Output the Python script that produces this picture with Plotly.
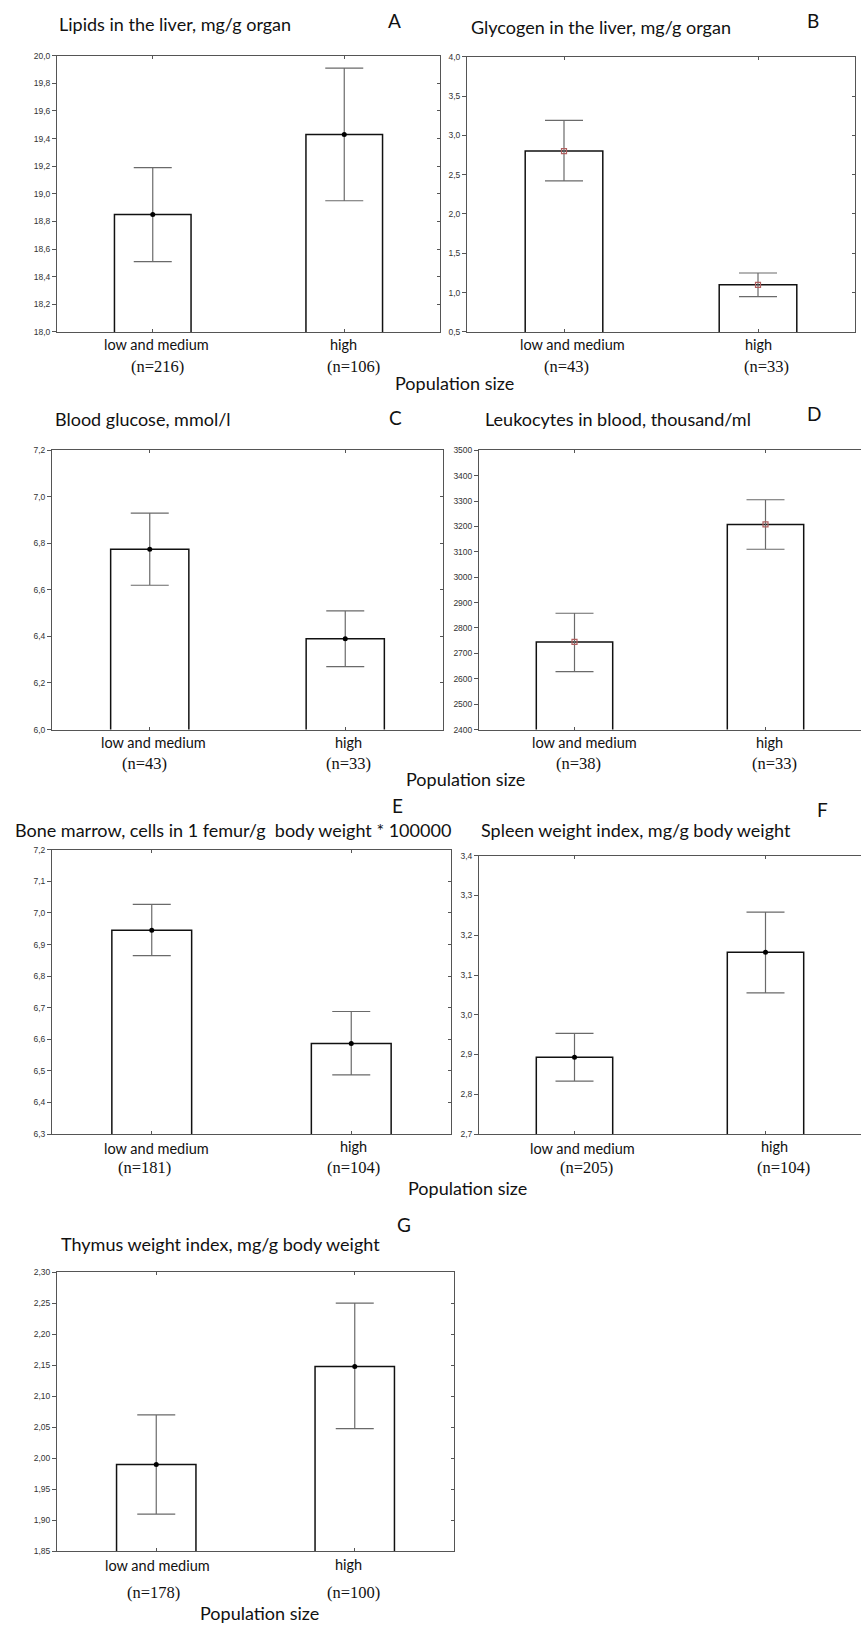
import plotly.graph_objects as go

W, H = 861, 1629

# ---------------- data ----------------
categories = ["low and medium", "high"]
panel_letters = ["A", "B", "C", "D", "E", "F", "G"]
titles = [
    "Lipids in the liver, mg/g organ",
    "Glycogen in the liver, mg/g organ",
    "Blood glucose, mmol/l",
    "Leukocytes in blood, thousand/ml",
    "Bone marrow, cells in 1 femur/g  body weight * 100000",
    "Spleen weight index, mg/g body weight",
    "Thymus weight index, mg/g body weight",
]
means = [
    [18.85, 19.43],
    [2.80, 1.10],
    [6.775, 6.39],
    [2745, 3208],
    [6.945, 6.587],
    [2.893, 3.157],
    [1.99, 2.148],
]
ci_upper = [
    [19.19, 19.91],
    [3.19, 1.25],
    [6.93, 6.51],
    [2858, 3305],
    [7.027, 6.688],
    [2.953, 3.258],
    [2.07, 2.25],
]
ci_lower = [
    [18.51, 18.95],
    [2.42, 0.95],
    [6.62, 6.27],
    [2628, 3110],
    [6.865, 6.487],
    [2.833, 3.055],
    [1.91, 2.048],
]
n_sizes = [
    [216, 106],
    [43, 33],
    [43, 33],
    [38, 33],
    [181, 104],
    [205, 104],
    [178, 100],
]
y_min = [18.0, 0.5, 6.0, 2400, 6.3, 2.7, 1.85]
y_max = [20.0, 4.0, 7.2, 3500, 7.2, 3.4, 2.30]
y_step = [0.2, 0.5, 0.2, 100, 0.1, 0.1, 0.05]
y_format = [".1f", ".1f", ".1f", "d", ".1f", ".1f", ".2f"]
x_axis_title = "Population size"

# ---------------- layout geometry (pixels) ----------------
# plot rectangles: left, right, top, bottom
rects = [
    (57, 440, 51, 329),
    (467, 855, 52, 329),
    (52, 443, 448, 729),
    (479, 861, 448, 729),
    (52, 451, 850, 1136),
    (479, 861, 856, 1136),
    (57, 454, 1275, 1556),
]
has_right = [True, True, True, False, True, False, True]
marker_kind = ["dot", "square", "dot", "square", "dot", "dot", "dot"]

# text positions
title_pos = [(57, 19), (469, 22), (53, 417), (483, 417), (13, 830), (479, 830), (59, 1247)]
letter_pos = [(394, 16), (813, 16), (395, 415), (814, 411), (397, 805), (822, 809), (404, 1227)]
cat_pos = [
    [(156, 342), (343, 342)],
    [(572, 342), (758, 342)],
    [(153, 742), (348, 742)],
    [(584, 742), (769, 742)],
    [(156, 1151), (353, 1149)],
    [(582, 1151), (774, 1149)],
    [(157, 1570), (348, 1569)],
]
n_pos = [
    [(157, 364), (353, 364)],
    [(566, 364), (766, 364)],
    [(144, 763), (348, 763)],
    [(578, 763), (774, 763)],
    [(144, 1170), (353, 1170)],
    [(586, 1170), (783, 1170)],
    [(153, 1597), (353, 1597)],
]
pop_pos = [(454, 380), (465, 779), (467, 1190), (259, 1618)]


def px(x):
    return x / W


def py(y):
    return 1 - y / H


SANS = "Lato, 'Open Sans', sans-serif"
SERIF = "'Liberation Serif', 'Times New Roman', serif"
TICKFONT = dict(family="'Liberation Sans', Arial, sans-serif", size=8.5, color="#333")
LINE = "#555"

fig = go.Figure()
layout = dict(
    width=W, height=H,
    margin=dict(l=0, r=0, t=0, b=0),
    paper_bgcolor="white", plot_bgcolor="white",
    showlegend=False,
    separators=", ",
    annotations=[],
)

n_extra = 0
for i in range(7):
    k = i + 1
    xs = "" if k == 1 else str(k)
    l, r, t, b = rects[i]
    layout[f"xaxis{xs}"] = dict(
        domain=[px(l), px(r)], range=[-0.5, 1.5], anchor=f"y{xs}",
        showticklabels=False, tickvals=[0, 1], ticks="inside", ticklen=3,
        tickcolor=LINE, showline=True, linecolor=LINE, linewidth=1,
        mirror="ticks", showgrid=False, zeroline=False,
    )
    layout[f"yaxis{xs}"] = dict(
        domain=[py(b), py(t)], range=[y_min[i], y_max[i]], anchor=f"x{xs}",
        tick0=y_min[i], dtick=y_step[i], tickformat=y_format[i],
        ticks="outside", ticklen=4, tickcolor=LINE, tickfont=TICKFONT,
        showline=True, linecolor=LINE, linewidth=1,
        mirror=has_right[i], showgrid=False, zeroline=False,
    )
    # bars
    fig.add_trace(go.Bar(
        x=[0, 1], y=means[i], width=0.4,
        marker=dict(color="white", line=dict(color="#111", width=1.5)),
        xaxis=f"x{xs}", yaxis=f"y{xs}",
    ))
    # means with confidence intervals
    up = [ci_upper[i][j] - means[i][j] for j in range(2)]
    dn = [means[i][j] - ci_lower[i][j] for j in range(2)]
    if marker_kind[i] == "dot":
        mk = dict(symbol="circle", size=5, color="black")
    else:
        mk = dict(symbol="square-open", size=5, color="#b06060", line=dict(width=1.2))
    fig.add_trace(go.Scatter(
        x=[0, 1], y=means[i], mode="markers", marker=mk,
        error_y=dict(type="data", symmetric=False, array=up, arrayminus=dn,
                     color="#6a6a6a", thickness=1.2, width=19),
        xaxis=f"x{xs}", yaxis=f"y{xs}", cliponaxis=False,
    ))
    # right side inner ticks
    if has_right[i]:
        n_extra += 1
        ek = 7 + n_extra
        layout[f"yaxis{ek}"] = dict(
            overlaying=f"y{xs}", side="right", anchor=f"x{xs}",
            range=[y_min[i], y_max[i]], tick0=y_min[i], dtick=y_step[i],
            ticks="inside", ticklen=3, tickcolor=LINE, showticklabels=False,
            showline=False, showgrid=False, zeroline=False,
        )
        fig.add_trace(go.Scatter(x=[None], y=[None], mode="markers",
                                 xaxis=f"x{xs}", yaxis=f"y{ek}", hoverinfo="skip"))

    ann = layout["annotations"]
    ann.append(dict(text=titles[i], x=px(title_pos[i][0]), y=py(title_pos[i][1]),
                    xref="paper", yref="paper", xanchor="left", yanchor="middle",
                    showarrow=False, font=dict(family=SANS, size=18, color="#111")))
    ann.append(dict(text=panel_letters[i], x=px(letter_pos[i][0]), y=py(letter_pos[i][1]),
                    xref="paper", yref="paper", xanchor="center", yanchor="middle",
                    showarrow=False, font=dict(family=SANS, size=19, color="#111")))
    for j in range(2):
        ann.append(dict(text=categories[j], x=px(cat_pos[i][j][0]), y=py(cat_pos[i][j][1]),
                        xref="paper", yref="paper", xanchor="center", yanchor="middle",
                        showarrow=False, font=dict(family=SANS, size=14.5, color="#111")))
        ann.append(dict(text=f"(n={n_sizes[i][j]})", x=px(n_pos[i][j][0]), y=py(n_pos[i][j][1]),
                        xref="paper", yref="paper", xanchor="center", yanchor="middle",
                        showarrow=False, font=dict(family=SERIF, size=16.5, color="#111")))

for (x, y) in pop_pos:
    layout["annotations"].append(dict(text=x_axis_title, x=px(x), y=py(y),
                                      xref="paper", yref="paper", xanchor="center",
                                      yanchor="middle", showarrow=False,
                                      font=dict(family=SANS, size=18, color="#111")))

fig.update_layout(**layout)
fig.write_html("out.html", config={"displayModeBar": False},
               post_script="document.body.style.margin='0';document.body.style.overflow='hidden';")
